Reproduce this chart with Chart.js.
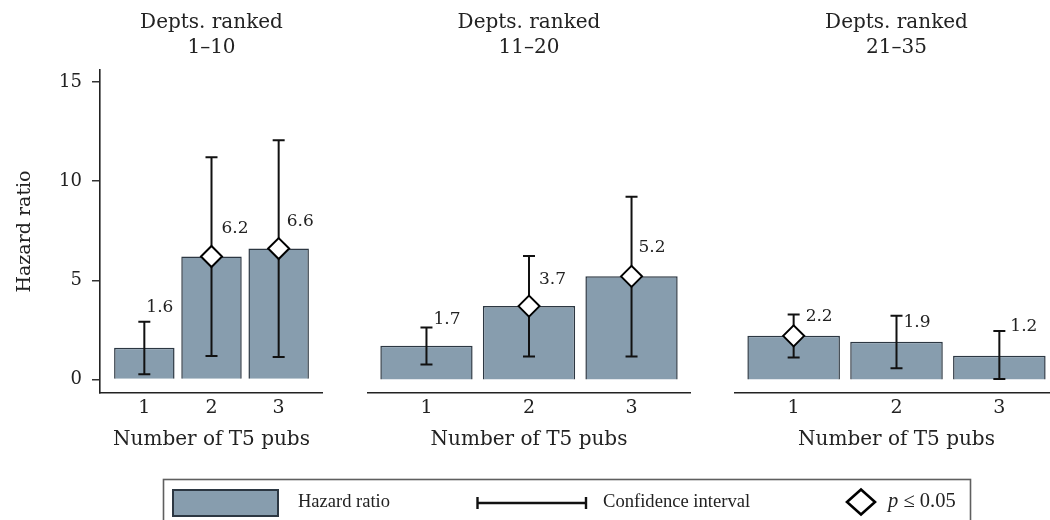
<!DOCTYPE html>
<html>
<head>
<meta charset="utf-8">
<title>Hazard ratios by department rank</title>
<script src="https://cdn.jsdelivr.net/npm/chart.js@4"></script>
<style>
  html, body { margin: 0; padding: 0; background: #fff; }
  body { width: 1050px; height: 520px; overflow: hidden; position: relative; }
  canvas { position: absolute; top: 0; }
  #legend { position: absolute; left: 0; top: 0; }
</style>
</head>
<body>
<canvas id="panel1" width="323" height="470" style="left:0px"></canvas>
<canvas id="panel2" width="324" height="470" style="left:367px"></canvas>
<canvas id="panel3" width="325" height="470" style="left:734px"></canvas>

<svg id="legend" width="1050" height="520" xmlns="http://www.w3.org/2000/svg">
  <rect x="163.5" y="479.5" width="807" height="60" fill="none" stroke="#5f5f5f" stroke-width="1.6"/>
  <rect x="173" y="490" width="105" height="26" fill="#879dae" stroke="#2c3742" stroke-width="2"/>
  <text x="298" y="507" font-family="Liberation Serif" font-size="18.5" fill="#222">Hazard ratio</text>
  <g stroke="#111" stroke-width="2.4" fill="none">
    <line x1="477" y1="503" x2="587" y2="503"/>
    <line x1="477.5" y1="497" x2="477.5" y2="509"/>
    <line x1="586" y1="497" x2="586" y2="509"/>
  </g>
  <text x="603" y="507" font-family="Liberation Serif" font-size="18.6" fill="#222">Confidence interval</text>
  <path d="M847 502 L861 489.5 L875 502 L861 514.5 Z" fill="#fff" stroke="#000" stroke-width="2.6"/>
  <text x="888" y="507" font-family="Liberation Serif" font-size="20.5" fill="#222"><tspan font-style="italic">p</tspan> ≤ 0.05</text>
</svg>

<script>
// Number of top-five publications (x categories)
const categories = [1, 2, 3];
const yTicks = [0, 5, 10, 15];

// Departments ranked 1–10
const title_top10 = ["Depts. ranked", "1–10"];
const hr_top10 = [1.6, 6.2, 6.6];
const ciLow_top10 = [0.27, 1.18, 1.14];
const ciHigh_top10 = [2.91, 11.2, 12.06];
const sig_top10 = [false, true, true];

// Departments ranked 11–20
const title_mid = ["Depts. ranked", "11–20"];
const hr_mid = [1.7, 3.7, 5.2];
const ciLow_mid = [0.76, 1.16, 1.16];
const ciHigh_mid = [2.62, 6.22, 9.21];
const sig_mid = [false, true, true];

// Departments ranked 21–35
const title_low = ["Depts. ranked", "21–35"];
const hr_low = [2.2, 1.9, 1.2];
const ciLow_low = [1.11, 0.57, 0.02];
const ciHigh_low = [3.28, 3.21, 2.45];
const sig_low = [true, false, false];

const xTitle = "Number of T5 pubs";
const yTitle = "Hazard ratio";

const SERIF = "'DejaVu Serif', serif";
const BAR_FILL = "#879dae";
const BAR_EDGE = "#2c3742";
const INK = "#222";

// Error bars, value labels and panel texts
const decor = {
  id: "decor",
  afterDatasetDraw(chart, args, opts) {
    if (args.meta.type !== "bar") return;
    const { ctx, scales: { x, y } } = chart;
    ctx.save();
    ctx.strokeStyle = "#111";
    ctx.lineWidth = 2;
    categories.forEach((c, i) => {
      const px = x.getPixelForValue(c);
      const top = y.getPixelForValue(opts.hi[i]);
      const bot = y.getPixelForValue(opts.lo[i]);
      ctx.beginPath();
      ctx.moveTo(px, top); ctx.lineTo(px, bot);
      ctx.moveTo(px - 6, top); ctx.lineTo(px + 6, top);
      ctx.moveTo(px - 6, bot); ctx.lineTo(px + 6, bot);
      ctx.stroke();
    });
    ctx.restore();
  },
  afterDraw(chart, args, opts) {
    const { ctx, chartArea: area, scales: { x, y } } = chart;
    const cx = (area.left + area.right) / 2;
    ctx.save();
    ctx.fillStyle = INK;
    // value labels
    ctx.font = "17px " + SERIF;
    ctx.textAlign = "left";
    ctx.textBaseline = "alphabetic";
    opts.values.forEach((v, i) => {
      const px = x.getPixelForValue(categories[i]) + opts.nudgeX[i];
      const py = y.getPixelForValue(v) - opts.nudgeY[i] + 6;
      ctx.fillText(v.toFixed(1), px, py);
    });
    // panel title
    ctx.textAlign = "center";
    ctx.font = "20px " + SERIF;
    ctx.fillText(opts.title[0], cx, 28);
    ctx.fillText(opts.title[1], cx, 53);
    // x axis title
    ctx.fillText(xTitle, cx, 445);
    // y axis title
    if (opts.showY) {
      ctx.translate(30, (area.top + area.bottom) / 2);
      ctx.rotate(-Math.PI / 2);
      ctx.font = "19px " + SERIF;
      ctx.fillText(yTitle, 0, 0);
    }
    ctx.restore();
  }
};

function makePanel(id, cfg) {
  const barPts = categories.map((c, i) => ({ x: c, y: cfg.hr[i] }));
  const sigPts = categories
    .map((c, i) => ({ x: c, y: cfg.hr[i], s: cfg.sig[i] }))
    .filter(p => p.s)
    .map(p => ({ x: p.x, y: p.y }));
  return new Chart(document.getElementById(id), {
    type: "bar",
    data: {
      datasets: [
        {
          type: "scatter",
          data: sigPts,
          pointStyle: "rectRot",
          radius: 10.5,
          backgroundColor: "#fff",
          borderColor: "#000",
          borderWidth: 2,
          order: 0
        },
        {
          type: "bar",
          data: barPts,
          backgroundColor: BAR_FILL,
          borderColor: BAR_EDGE,
          borderWidth: 1.5,
          barPercentage: 0.9,
          categoryPercentage: 1,
          order: 1
        }
      ]
    },
    options: {
      responsive: false,
      animation: false,
      events: [],
      layout: { autoPadding: false, padding: { top: 70, left: 0, right: 0, bottom: 0 } },
      plugins: {
        legend: { display: false },
        tooltip: { enabled: false },
        decor: {
          hi: cfg.hi, lo: cfg.lo, values: cfg.hr, title: cfg.title,
          nudgeX: cfg.nudgeX, nudgeY: cfg.nudgeY, showY: cfg.showY
        }
      },
      scales: {
        x: {
          type: "linear",
          offset: false,
          min: cfg.xmin,
          max: cfg.xmax,
          afterBuildTicks: s => { s.ticks = categories.map(v => ({ value: v })); },
          afterFit: s => { s.height = 77; s.paddingLeft = 0; s.paddingRight = 0; },
          grid: { display: false, drawTicks: false },
          border: { display: true, color: "#222", width: 1.6 },
          ticks: { color: INK, padding: 4, autoSkip: false, maxRotation: 0, font: { family: SERIF, size: 19 } }
        },
        y: {
          display: cfg.showY,
          min: -0.68,
          max: 15.6,
          afterBuildTicks: s => { s.ticks = yTicks.map(v => ({ value: v })); },
          afterFit: s => {
            s.width = cfg.showY ? 100 : 0;
            s.paddingTop = 0; s.paddingBottom = 0;
          },
          grid: { drawOnChartArea: false, drawTicks: true, tickLength: 8, color: "#333", lineWidth: 1.5 },
          border: { display: true, color: "#222", width: 1.6 },
          ticks: { color: INK, padding: 10, font: { family: SERIF, size: 18 } }
        }
      }
    },
    plugins: [decor]
  });
}

makePanel("panel1", {
  hr: hr_top10, lo: ciLow_top10, hi: ciHigh_top10, sig: sig_top10, title: title_top10,
  xmin: 0.34, xmax: 3.66, showY: true,
  nudgeX: [2, 10, 8], nudgeY: [42, 29, 28.5]
});
makePanel("panel2", {
  hr: hr_mid, lo: ciLow_mid, hi: ciHigh_mid, sig: sig_mid, title: title_mid,
  xmin: 0.42, xmax: 3.58, showY: false,
  nudgeX: [7, 10, 7], nudgeY: [27.5, 28, 30.5]
});
makePanel("panel3", {
  hr: hr_low, lo: ciLow_low, hi: ciHigh_low, sig: sig_low, title: title_low,
  xmin: 0.42, xmax: 3.58, showY: false,
  nudgeX: [12, 7, 11], nudgeY: [21, 21, 30.5]
});
</script>
</body>
</html>
